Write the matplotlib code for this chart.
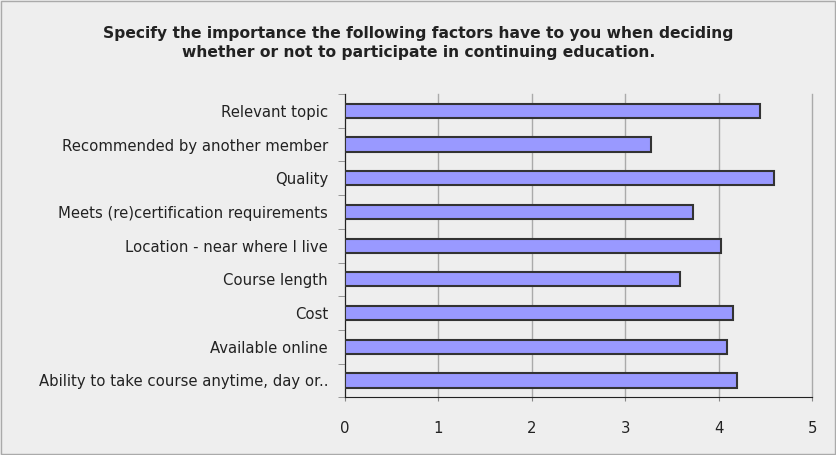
import numpy as np
import matplotlib.pyplot as plt
from matplotlib.patches import Rectangle

# Data (top to bottom as shown)
factors = [
    "Relevant topic",
    "Recommended by another member",
    "Quality",
    "Meets (re)certification requirements",
    "Location - near where I live",
    "Course length",
    "Cost",
    "Available online",
    "Ability to take course anytime, day or..",
]
scores = [4.44, 3.27, 4.59, 3.72, 4.02, 3.58, 4.15, 4.09, 4.19]

title = ("Specify the importance the following factors have to you when deciding\n"
         "whether or not to participate in continuing education.")

bg = "#eeeeee"
fig = plt.figure(figsize=(8.37, 4.55), dpi=100, facecolor=bg)
ax = fig.add_axes([0.4118, 0.1268, 0.5587, 0.6666])
ax.set_facecolor(bg)

y = np.arange(len(factors))
ax.barh(y, scores, height=0.42, color="#9999ff", edgecolor="#333333",
        linewidth=1.5, zorder=3)

ax.set_xlim(0, 5)
ax.set_ylim(len(factors) - 0.5, -0.5)
ax.set_xticks(range(6))
ax.set_yticks(y)
ax.set_yticklabels(factors)
ax.set_yticks(np.arange(len(factors) + 1) - 0.5, minor=True)
ax.tick_params(axis="y", which="major", length=0, pad=12, labelsize=10.7,
               labelcolor="#222222")
ax.tick_params(axis="y", which="minor", length=5, color="#888888")
ax.tick_params(axis="x", length=3, color="#888888", labelsize=10.7,
               labelcolor="#222222", pad=14)

ax.grid(axis="x", color="#aaaaaa", linewidth=1, zorder=0)
for gl in ax.get_xgridlines():
    gl.set_clip_on(False)
for s in ["top", "right"]:
    ax.spines[s].set_visible(False)
ax.spines["left"].set_color("#222222")
ax.spines["bottom"].set_color("#222222")

fig.text(0.5, 0.942, title, ha="center", va="top", fontsize=11.2,
         fontweight="bold", color="#222222", linespacing=1.3)

# outer frame
fig.patches.append(Rectangle((0.001, 0.002), 0.997, 0.995, transform=fig.transFigure,
                             fill=False, edgecolor="#aaaaaa", linewidth=1))

fig.savefig("out.png", dpi=100, facecolor=bg)
